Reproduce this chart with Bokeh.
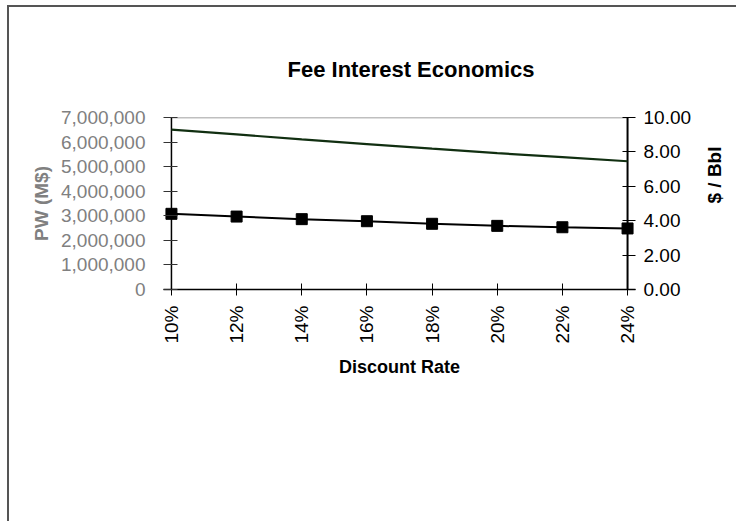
from math import pi
from bokeh.plotting import figure
from bokeh.models import (Range1d, LinearAxis, FixedTicker, NumeralTickFormatter)
from bokeh.embed import file_html
from bokeh.resources import INLINE

# ---- data ----
rates = [10, 12, 14, 16, 18, 20, 22, 24]
rate_labels = ["10%", "12%", "14%", "16%", "18%", "20%", "22%", "24%"]
pw = [6510000, 6310000, 6110000, 5920000, 5730000, 5550000, 5390000, 5220000]
per_bbl = [4.40, 4.24, 4.09, 3.97, 3.82, 3.70, 3.62, 3.55]
left_ticks = [0, 1000000, 2000000, 3000000, 4000000, 5000000, 6000000, 7000000]
right_ticks = [0, 2, 4, 6, 8, 10]

FONT = "Liberation Sans"
WIN_W, WIN_H = 738, 531
OX, OY = 9, 7                            # chart border offset (margin + border)
W, H = WIN_W - OX, WIN_H - OY - 8        # a little short so the page never scrolls
AXL, AXR, FT, FB = 171 - OX, 630 - OX, 117 - OY, 289 - OY   # axis positions in canvas px
PAD = 8                                  # frame padding so edge markers show

X0, X1 = rates[0], rates[-1]
L0, L1 = left_ticks[0], left_ticks[-1]
R0, R1 = right_ticks[0], right_ticks[-1]
xpad = PAD / (AXR - AXL) * (X1 - X0)

p = figure(width=W, height=H, output_backend="svg", toolbar_location=None,
           x_range=Range1d(X0 - xpad, X1 + xpad), y_range=Range1d(L0, L1),
           min_border_left=AXL - PAD, min_border_right=W - AXR - PAD,
           min_border_top=FT, min_border_bottom=H - FB)
p.extra_y_ranges = {"bbl": Range1d(R0, R1)}
p.grid.visible = False
p.background_fill_color = "white"
p.border_fill_color = "white"
p.outline_line_color = None
p.styles = {"margin-left": "7px", "margin-top": "5px",
            "border-left": "2px solid #555555", "border-top": "2px solid #555555"}

p.title.text = "Fee Interest Economics"
p.title.align = "left"
p.title.text_font = FONT
p.title.text_font_style = "bold"
p.title.text_font_size = "22px"
p.title.text_color = "black"
p.title.offset = 124
p.title.standoff = 72

# left axis
ya = p.yaxis[0]
ya.ticker = FixedTicker(ticks=left_ticks)
ya.formatter = NumeralTickFormatter(format="0,0")
ya.major_label_text_font = FONT
ya.major_label_text_font_size = "19px"
ya.major_label_text_color = "#808080"
ya.major_label_standoff = 18
ya.axis_label = "PW (M$)"
ya.axis_label_text_font = FONT
ya.axis_label_text_font_style = "bold"
ya.axis_label_text_font_size = "19px"
ya.axis_label_text_color = "#808080"
ya.axis_label_standoff = 6
ya.axis_line_color = None
ya.major_tick_in = 14
ya.major_tick_out = 0
ya.major_tick_line_color = "#333333"
ya.minor_tick_line_color = None

# right axis
ra = LinearAxis(y_range_name="bbl", ticker=FixedTicker(ticks=right_ticks),
                formatter=NumeralTickFormatter(format="0.00"))
ra.major_label_text_font = FONT
ra.major_label_text_font_size = "19px"
ra.major_label_text_color = "black"
ra.major_label_standoff = 8
ra.axis_line_color = None
ra.major_tick_in = 13
ra.major_tick_out = 0
ra.minor_tick_line_color = None
ra.axis_label = "$ / Bbl"
ra.axis_label_text_font = FONT
ra.axis_label_text_font_style = "bold"
ra.axis_label_text_font_size = "19px"
ra.axis_label_text_color = "black"
ra.axis_label_standoff = 20
if "axis_label_orientation" in ra.properties():
    ra.axis_label_orientation = pi / 2
p.add_layout(ra, "right")

# x axis
xa = p.xaxis[0]
xa.ticker = FixedTicker(ticks=rates)
xa.major_label_overrides = {r: l for r, l in zip(rates, rate_labels)}
xa.major_label_orientation = pi / 2
xa.major_label_text_font = FONT
xa.major_label_text_font_size = "19px"
xa.major_label_text_color = "black"
xa.major_label_standoff = 10
xa.axis_label = "Discount Rate"
xa.axis_label_text_font = FONT
xa.axis_label_text_font_style = "bold"
xa.axis_label_text_font_size = "18px"
xa.axis_label_text_color = "black"
xa.axis_label_standoff = 10
xa.axis_line_color = "black"
xa.axis_line_width = 1.5
xa.major_tick_in = 6
xa.major_tick_out = 6
xa.minor_tick_line_color = None

# axis lines through the first and last categories, top plot-area edge
p.line([X0, X1], [L1, L1], line_color="#808080", line_width=1.5)
p.line([X0, X0], [L0, L1], line_color="black", line_width=1.5)
p.line([X1, X1], [L0, L1], line_color="black", line_width=2)

# series
p.line(rates, pw, line_color="#112f11", line_width=2.2)
p.line(rates, per_bbl, y_range_name="bbl", line_color="black", line_width=2)
p.scatter(rates, per_bbl, y_range_name="bbl", marker="square", size=11,
          fill_color="black", line_color="black")

open("out.html", "w").write(file_html(p, INLINE))
